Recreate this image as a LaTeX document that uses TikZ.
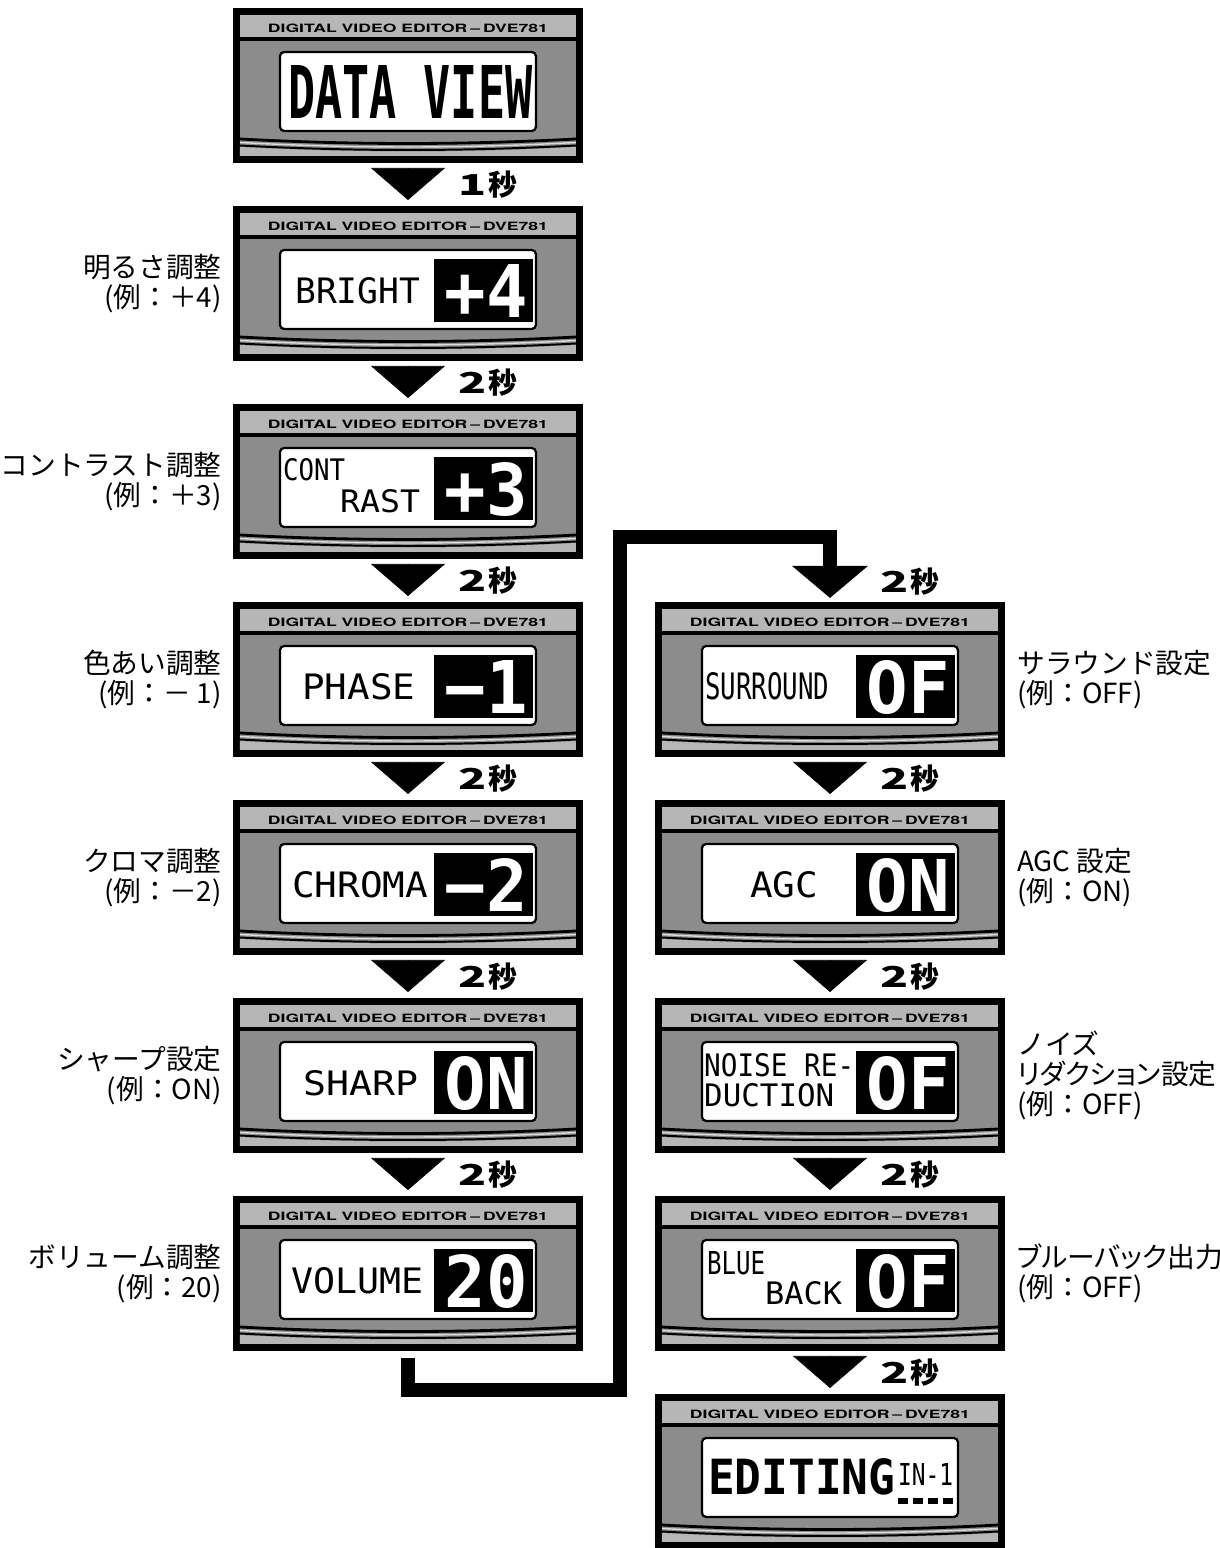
\documentclass[tikz,border=0pt]{standalone}
\usepackage{fontspec}
\usepackage{graphicx}
\newfontfamily\jpfont{Noto Sans CJK JP}
\newfontfamily\jppalt[RawFeature=+palt]{Noto Sans CJK JP}
\newfontfamily\lcdfont{DejaVu Sans Mono}
\newfontfamily\hdrfont{TeX Gyre Heros}
\definecolor{DVEdark}{HTML}{8C8C8C}
\definecolor{DVElight}{HTML}{B6B6B6}
\usetikzlibrary{arrows.meta, positioning}
\newlength{\pxu}
\setlength{\pxu}{0.025cm}
\newcommand{\lcd}[3]{\resizebox{#1\pxu}{#2\pxu}{#3}}
\newcommand{\secs}[1]{\scalebox{1.6}[1]{#1}\kern1.5pt 秒}
% one DVE781 front panel: name, centre x, top y, screen contents
\newcommand{\dvepanel}[4]{%
  \node[dveframe] (#1) at (#2,#3+77.5) {};
  \begin{scope}[shift={(#1.north west)}]
    \fill[DVElight] (7,7) rectangle (343,29);
    \fill[DVEdark] (7,33) rectangle (343,148);
    \fill[DVElight] (7,139) .. controls (120,145) and (230,145) .. (343,139) -- (343,148) -- (7,148) -- cycle;
    \draw[line width=2pt] (7,131) .. controls (120,137) and (230,137) .. (343,131);
    \draw[DVElight!50!white, line width=1pt] (7,134.5) .. controls (120,140.5) and (230,140.5) .. (343,134.5);
    \draw[line width=1.4pt] (7,137.5) .. controls (120,143.5) and (230,143.5) .. (343,137.5);
    \draw[lcdscreen] (47,44) rectangle (303,123);
    \node[hdrtext] at (175,20) {\lcd{280}{8.5}{DIGITAL VIDEO EDITOR\,–\,DVE781}};
    #4
  \end{scope}}
\newcommand{\valbox}[1]{%
  \fill (201,53) rectangle (300,116);
  \node[valtext] at (253.5,85.5) {\lcd{83}{53}{#1}};}

\begin{document}
\begin{tikzpicture}[x=0.025cm, y=-0.025cm,
    dveframe/.style={rectangle, fill=black, inner sep=0pt, outer sep=0pt,
      minimum width=8.75cm, minimum height=3.875cm},
    lcdscreen/.style={fill=white, draw=black, line width=1.6pt, rounded corners=3pt},
    hdrtext/.style={inner sep=0pt, font=\hdrfont\bfseries},
    lcdtext/.style={anchor=north west, inner sep=0pt, font=\lcdfont},
    valtext/.style={inner sep=0pt, text=white, font=\lcdfont\bfseries},
    steparrow/.style={-{Triangle[length=0.8cm, width=1.85cm]}, line width=0.4pt,
      shorten <=0.125cm, shorten >=0.15cm},
    bigconn/.style={-{Triangle[length=0.8cm, width=1.85cm]}, line width=10pt,
      line join=miter, shorten <=0.175cm, shorten >=0.1cm},
    timelabel/.style={inner sep=0pt, font=\jpfont\bfseries\fontsize{20.5}{20.5}\selectfont},
    sidelabel/.style={inner sep=0pt, font=\jpfont\fontsize{19.7}{21.3}\selectfont}]
  \useasboundingbox (0,0) rectangle (1220,1548);

  % left column
  \dvepanel{p1}{408}{8}{%
    \node[lcdtext, font=\lcdfont\bfseries] at (55,57) {\lcd{244}{53}{DATA VIEW}};}
  \dvepanel{p2}{408}{206}{%
    \valbox{+4}
    \node[lcdtext] at (62,71) {\lcd{125}{26}{BRIGHT}};}
  \dvepanel{p3}{408}{404}{%
    \valbox{+3}
    \node[lcdtext] at (50,54) {\lcd{62}{22}{CONT}};
    \node[lcdtext] at (107,85) {\lcd{80}{23}{RAST}};}
  \dvepanel{p4}{408}{602}{%
    \valbox{−1}
    \node[lcdtext] at (69,71) {\lcd{113}{26}{PHASE}};}
  \dvepanel{p5}{408}{800}{%
    \valbox{−2}
    \node[lcdtext] at (59,71) {\lcd{136}{26}{CHROMA}};}
  \dvepanel{p6}{408}{998}{%
    \valbox{ON}
    \node[lcdtext] at (70,72) {\lcd{115}{25}{SHARP}};}
  \dvepanel{p7}{408}{1196}{%
    \valbox{20}
    \node[lcdtext] at (58,71) {\lcd{132}{26}{VOLUME}};}

  % right column
  \dvepanel{r1}{830}{602}{%
    \valbox{OF}
    \node[lcdtext] at (50,70) {\lcd{124}{27}{SURROUND}};}
  \dvepanel{r2}{830}{800}{%
    \valbox{ON}
    \node[lcdtext] at (95,71) {\lcd{68}{26}{AGC}};}
  \dvepanel{r3}{830}{998}{%
    \valbox{OF}
    \node[lcdtext] at (49,55) {\lcd{150}{23}{NOISE RE-}};
    \node[lcdtext] at (49,85) {\lcd{130}{23}{DUCTION}};}
  \dvepanel{r4}{830}{1196}{%
    \valbox{OF}
    \node[lcdtext] at (52,55) {\lcd{58}{23}{BLUE}};
    \node[lcdtext] at (110,85) {\lcd{77}{23}{BACK}};}
  \dvepanel{r5}{830}{1394}{%
    \node[lcdtext, font=\lcdfont\bfseries] at (53,64) {\lcd{187}{36}{EDITING}};
    \node[lcdtext] at (243,69) {\lcd{55}{22}{IN-1}};
    \foreach \dx in {243,258,273,288}
      \fill (\dx,104) rectangle ++(10,6);}

  % timing arrows
  \draw[steparrow] (p1) -- (p2) node[timelabel, midway, right=1.25cm] {\secs{1}};
  \draw[steparrow] (p2) -- (p3) node[timelabel, midway, right=1.25cm] {\secs{2}};
  \draw[steparrow] (p3) -- (p4) node[timelabel, midway, right=1.25cm] {\secs{2}};
  \draw[steparrow] (p4) -- (p5) node[timelabel, midway, right=1.25cm] {\secs{2}};
  \draw[steparrow] (p5) -- (p6) node[timelabel, midway, right=1.25cm] {\secs{2}};
  \draw[steparrow] (p6) -- (p7) node[timelabel, midway, right=1.25cm] {\secs{2}};
  \draw[steparrow] (r1) -- (r2) node[timelabel, midway, right=1.25cm] {\secs{2}};
  \draw[steparrow] (r2) -- (r3) node[timelabel, midway, right=1.25cm] {\secs{2}};
  \draw[steparrow] (r3) -- (r4) node[timelabel, midway, right=1.25cm] {\secs{2}};
  \draw[steparrow] (r4) -- (r5) node[timelabel, midway, right=1.25cm] {\secs{2}};

  % jump to the second column
  \coordinate (bendlow) at (620,1390);
  \coordinate (bendhigh) at (620,537);
  \draw[bigconn] (p7) |- (bendlow) -- (bendhigh) -| (r1);
  \node[timelabel, anchor=west] (t8) at ([shift={(50,-20)}]r1.north) {\secs{2}};

  % setting names
  \node[sidelabel, align=right, left=0.275cm of p2] {明るさ調整\\(例：＋4)};
  \node[sidelabel, align=right, left=0.275cm of p3] {コントラスト調整\\(例：＋3)};
  \node[sidelabel, align=right, left=0.275cm of p4] {色あい調整\\(例：－ 1)};
  \node[sidelabel, align=right, left=0.275cm of p5] {クロマ調整\\(例：－2)};
  \node[sidelabel, align=right, left=0.275cm of p6] {シャープ設定\\(例：ON)};
  \node[sidelabel, align=right, left=0.275cm of p7] {ボリューム調整\\(例：20)};
  \node[sidelabel, align=left, right=0.3cm of r1] {サラウンド設定\\(例：OFF)};
  \node[sidelabel, align=left, right=0.3cm of r2] {AGC 設定\\(例：ON)};
  \node[sidelabel, align=left, right=0.3cm of r3] {ノイズ\\{\jppalt リダクション設定}\\(例：OFF)};
  \node[sidelabel, align=left, right=0.3cm of r4] {{\jppalt ブルーバック出力}\\(例：OFF)};
\end{tikzpicture}
\end{document}
